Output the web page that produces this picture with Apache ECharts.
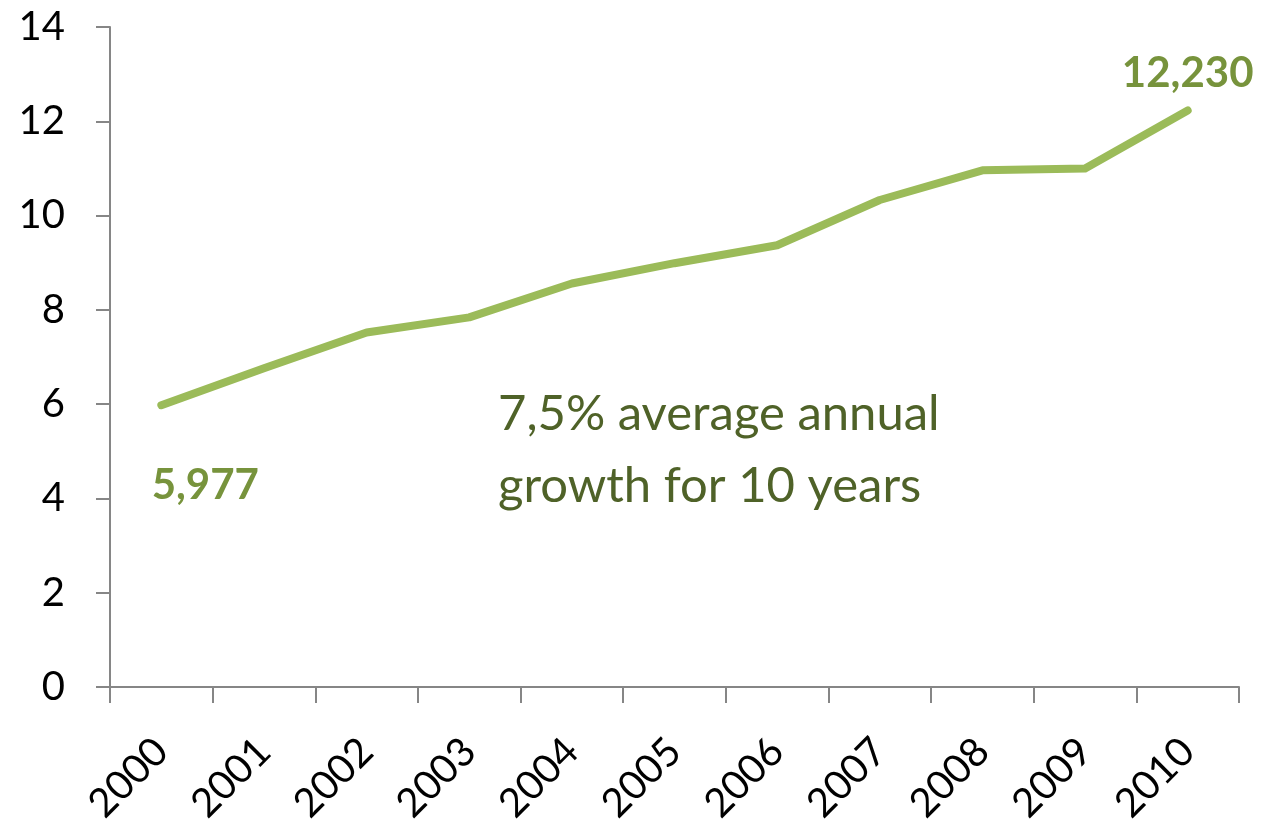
<!DOCTYPE html>
<html>
<head>
<meta charset="utf-8">
<script src="https://cdn.jsdelivr.net/npm/echarts@6/dist/echarts.min.js"></script>
<style>
html,body{margin:0;padding:0;background:#fff;}
#chart{width:1271px;height:839px;}
</style>
</head>
<body>
<div id="chart"></div>
<script>
const years = ['2000','2001','2002','2003','2004','2005','2006','2007','2008','2009','2010'];
const values = [5.977, 6.76, 7.52, 7.84, 8.56, 8.99, 9.37, 10.33, 10.96, 11.0, 12.23];
const yTicks = [0, 2, 4, 6, 8, 10, 12, 14];
const noteLines = ['7,5% average annual', 'growth for 10 years'];

const FONT = 'Lato, "Open Sans", sans-serif';
const LINE = '#9BBB59';
const LABEL = '#77933C';
const NOTE = '#4F6228';
const AXIS = '#868686';

const fmt = v => Math.round(v * 1000).toLocaleString('en-US');

const seriesData = values.map((v, i) => {
  if (i === 0) {
    return {value: v, label: {show: true, position: [44, 80], align: 'center', verticalAlign: 'middle'}};
  }
  if (i === values.length - 1) {
    return {value: v, label: {show: true, position: 'top', distance: 16}};
  }
  return {value: v};
});

const chart = echarts.init(document.getElementById('chart'), null, {renderer: 'canvas'});
chart.setOption({
  animation: false,
  backgroundColor: '#ffffff',
  grid: {left: 110, right: 32, top: 27, bottom: 152, containLabel: false},
  xAxis: {
    type: 'category',
    data: years,
    boundaryGap: true,
    axisLine: {show: true, lineStyle: {color: AXIS, width: 2}},
    axisTick: {show: true, length: 16, interval: 0, alignWithLabel: false, lineStyle: {color: AXIS, width: 2}},
    axisLabel: {show: true, interval: 0, rotate: 45, margin: 58, color: '#000', fontFamily: FONT, fontSize: 40},
    splitLine: {show: false}
  },
  yAxis: {
    type: 'value',
    min: yTicks[0],
    max: yTicks[yTicks.length - 1],
    interval: yTicks[1] - yTicks[0],
    axisLine: {show: true, lineStyle: {color: AXIS, width: 2}},
    axisTick: {show: true, length: 14, inside: false, lineStyle: {color: AXIS, width: 2}},
    axisLabel: {show: true, margin: 45, color: '#000', fontFamily: FONT, fontSize: 40},
    splitLine: {show: false}
  },
  series: [{
    type: 'line',
    data: seriesData,
    showSymbol: true,
    symbol: 'circle',
    symbolSize: 0,
    lineStyle: {color: LINE, width: 8, cap: 'round', join: 'round'},
    itemStyle: {color: LINE},
    label: {
      show: false,
      color: LABEL,
      fontFamily: FONT,
      fontWeight: 'bold',
      fontSize: 42,
      formatter: p => fmt(p.value)
    },
    labelLayout: {hideOverlap: false},
    emphasis: {disabled: true}
  }],
  graphic: noteLines.map((t, i) => ({
    type: 'text',
    left: 498,
    top: 390 + i * 72,
    style: {text: t, fill: NOTE, font: '49px ' + FONT}
  }))
});
</script>
</body>
</html>
